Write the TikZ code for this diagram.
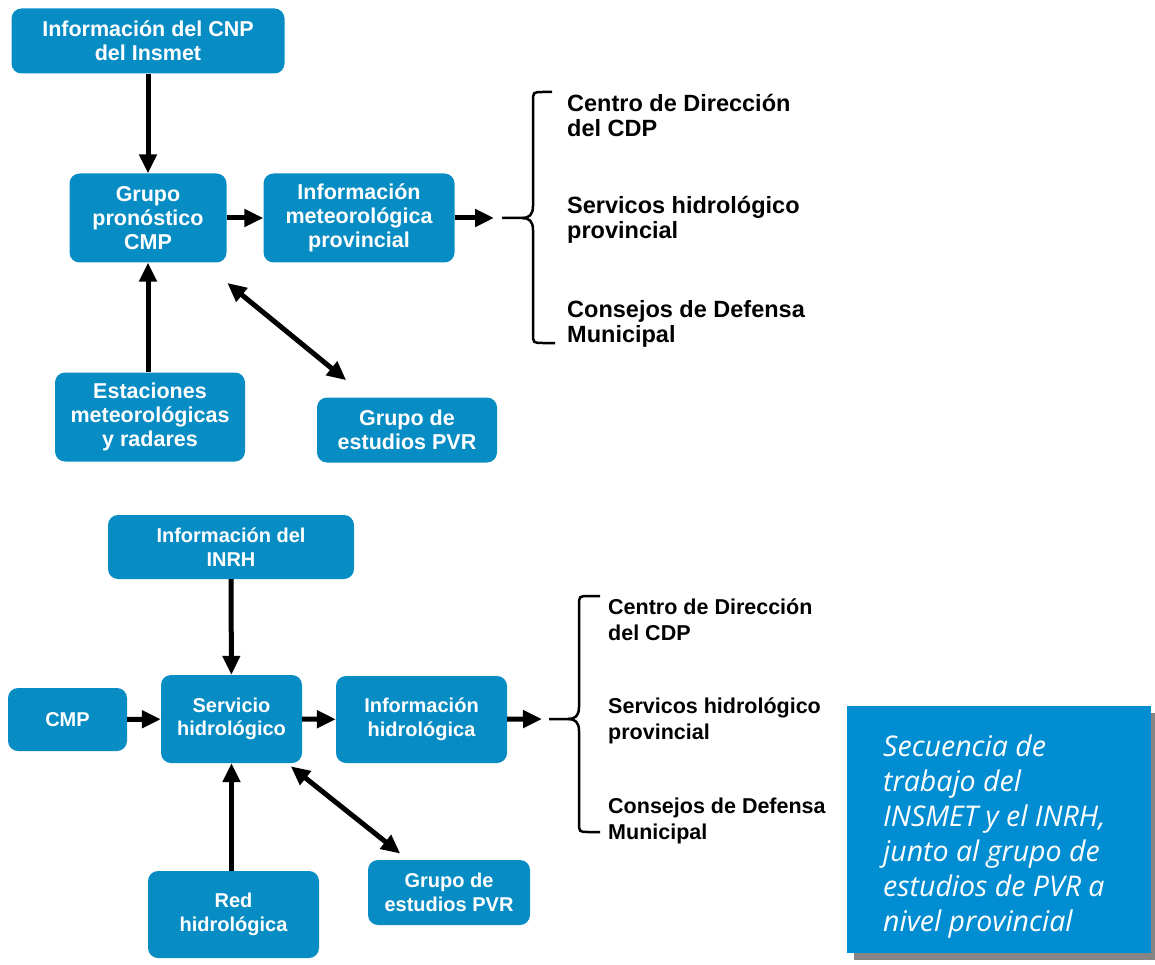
\documentclass[tikz,border=0pt]{standalone}
\usepackage{fontspec}
\setmainfont{Liberation Sans}
\newfontfamily\capfont{Open Sans}
\usepackage{xcolor}
\usepackage{tikz}
\usetikzlibrary{arrows.meta}
\usetikzlibrary{shadows}
\definecolor{boxblue}{RGB}{8,140,196}
\definecolor{capblue}{RGB}{0,141,210}

\begin{document}
\begin{tikzpicture}[x=1pt,y=-1pt,
		blk/.style={fill=boxblue,rounded corners=10pt,text=white,align=center,inner sep=0pt,
			font=\bfseries\fontsize{21.5}{24}\selectfont},
		blkb/.style={blk,font=\bfseries\fontsize{20}{23.5}\selectfont},
		arr/.style={line width=5pt,-{Triangle[length=19pt,width=17pt]}},
		dbl/.style={line width=5pt,{Triangle[length=19pt,width=17pt]}-{Triangle[length=19pt,width=17pt]}},
		brc/.style={line width=2.5pt},
		dest/.style={anchor=west,align=left,inner sep=0pt,font=\bfseries\fontsize{23.5}{25}\selectfont},
		destb/.style={dest,font=\bfseries\fontsize{21.5}{26}\selectfont}]
		\useasboundingbox (0,0) rectangle (1155,965);
		% INSMET
		\node[blk,minimum width=273pt,minimum height=65pt] (cnp) at (148,41) {Información del CNP\\del Insmet};
		\node[blk,minimum width=157pt,minimum height=89pt] (grp) at (148,218) {Grupo\\pronóstico\\CMP};
		\node[blk,minimum width=191pt,minimum height=89pt] (met) at (359,218) {Información\\meteorológica\\provincial};
		\node[blk,minimum width=190pt,minimum height=89pt] (est) at (150,417) {Estaciones\\meteorológicas\\y radares};
		\node[blk,minimum width=180pt,minimum height=65pt] (pvr) at (407,430) {Grupo de\\estudios PVR};
		\coordinate (tip) at (494,218);
		\draw[arr] (cnp) -- (grp);
		\draw[arr] (grp) -- (met);
		\draw[arr] (met) -- (tip);
		\draw[arr] (grp |- est.north) -- (grp.south);
		\draw[dbl,shorten <=32pt,shorten >=27pt] (grp) -- (pvr);
		\draw[brc] (552,92) -- (543,92) .. controls (533,92) .. (533,102) -- (533,206)
			.. controls (533,215) and (529,218) .. (522,218) -- (502,218);
		\draw[brc] (522,218) .. controls (529,218) and (533,221) .. (533,230) -- (533,333)
			.. controls (533,343) .. (543,343) -- (555,343);
		\node[dest] (cdp) at (567,115.5) {Centro de Dirección\\del CDP};
		\node[dest] (shp) at (567,219.5) {Servicos hidrológico\\provincial};
		\node[dest] (cdm) at (567,323.5) {Consejos de Defensa\\Municipal};
		% INRH
		\node[blkb,minimum width=246pt,minimum height=64pt] (inrh) at (231,547) {Información del\\INRH};
		\node[blkb,minimum width=119pt,minimum height=63pt] (cmp) at (67.5,719.5) {CMP};
		\node[blkb,minimum width=141pt,minimum height=88pt] (srv) at (231.5,719) {Servicio\\hidrológico};
		\node[blkb,minimum width=171pt,minimum height=87pt] (hid) at (421.5,719.5) {Información\\hidrológica};
		\node[blkb,minimum width=171pt,minimum height=87pt] (red) at (233.5,914.5) {Red\\hidrológica};
		\node[blkb,minimum width=162pt,minimum height=65pt] (pvrb) at (449,892.5) {Grupo de\\estudios PVR};
		\coordinate (tipb) at (542,719);
		\draw[arr] (inrh) -- (srv);
		\draw[arr] (cmp) -- (srv);
		\draw[arr] (srv) -- (hid);
		\draw[arr] (hid) -- (tipb);
		\draw[arr] (srv |- red.north) -- (srv.south);
		\draw[dbl,shorten <=5pt,shorten >=10pt] (srv) -- (pvrb);
		\draw[brc] (600,596) -- (589,596) .. controls (579,596) .. (579,606) -- (579,707)
			.. controls (579,716) and (575,719) .. (568,719) -- (549,719);
		\draw[brc] (568,719) .. controls (575,719) and (579,722) .. (579,731) -- (579,822)
			.. controls (579,832) .. (589,832) -- (600,832);
		\node[destb] (cdpb) at (608,620) {Centro de Dirección\\del CDP};
		\node[destb] (shpb) at (608,721) {Servicos hidrológico\\provincial};
		\node[destb] (cdmb) at (608,821) {Consejos de Defensa\\Municipal};
		% caption
		\node[fill=capblue,minimum width=304pt,minimum height=247pt,inner sep=0pt,
			drop shadow={shadow xshift=7pt,shadow yshift=-7pt,opacity=0.6,fill=black!80}] (cap) at (999,829.5) {};
		\node[anchor=north west,align=left,inner sep=0pt,text=white,
			font=\capfont\itshape\fontsize{28.5}{35}\selectfont] (captxt) at (883,735)
			{Secuencia de\\trabajo del\\INSMET y el INRH,\\junto al grupo de\\estudios de PVR a\\nivel provincial};
	\end{tikzpicture}
\end{document}
